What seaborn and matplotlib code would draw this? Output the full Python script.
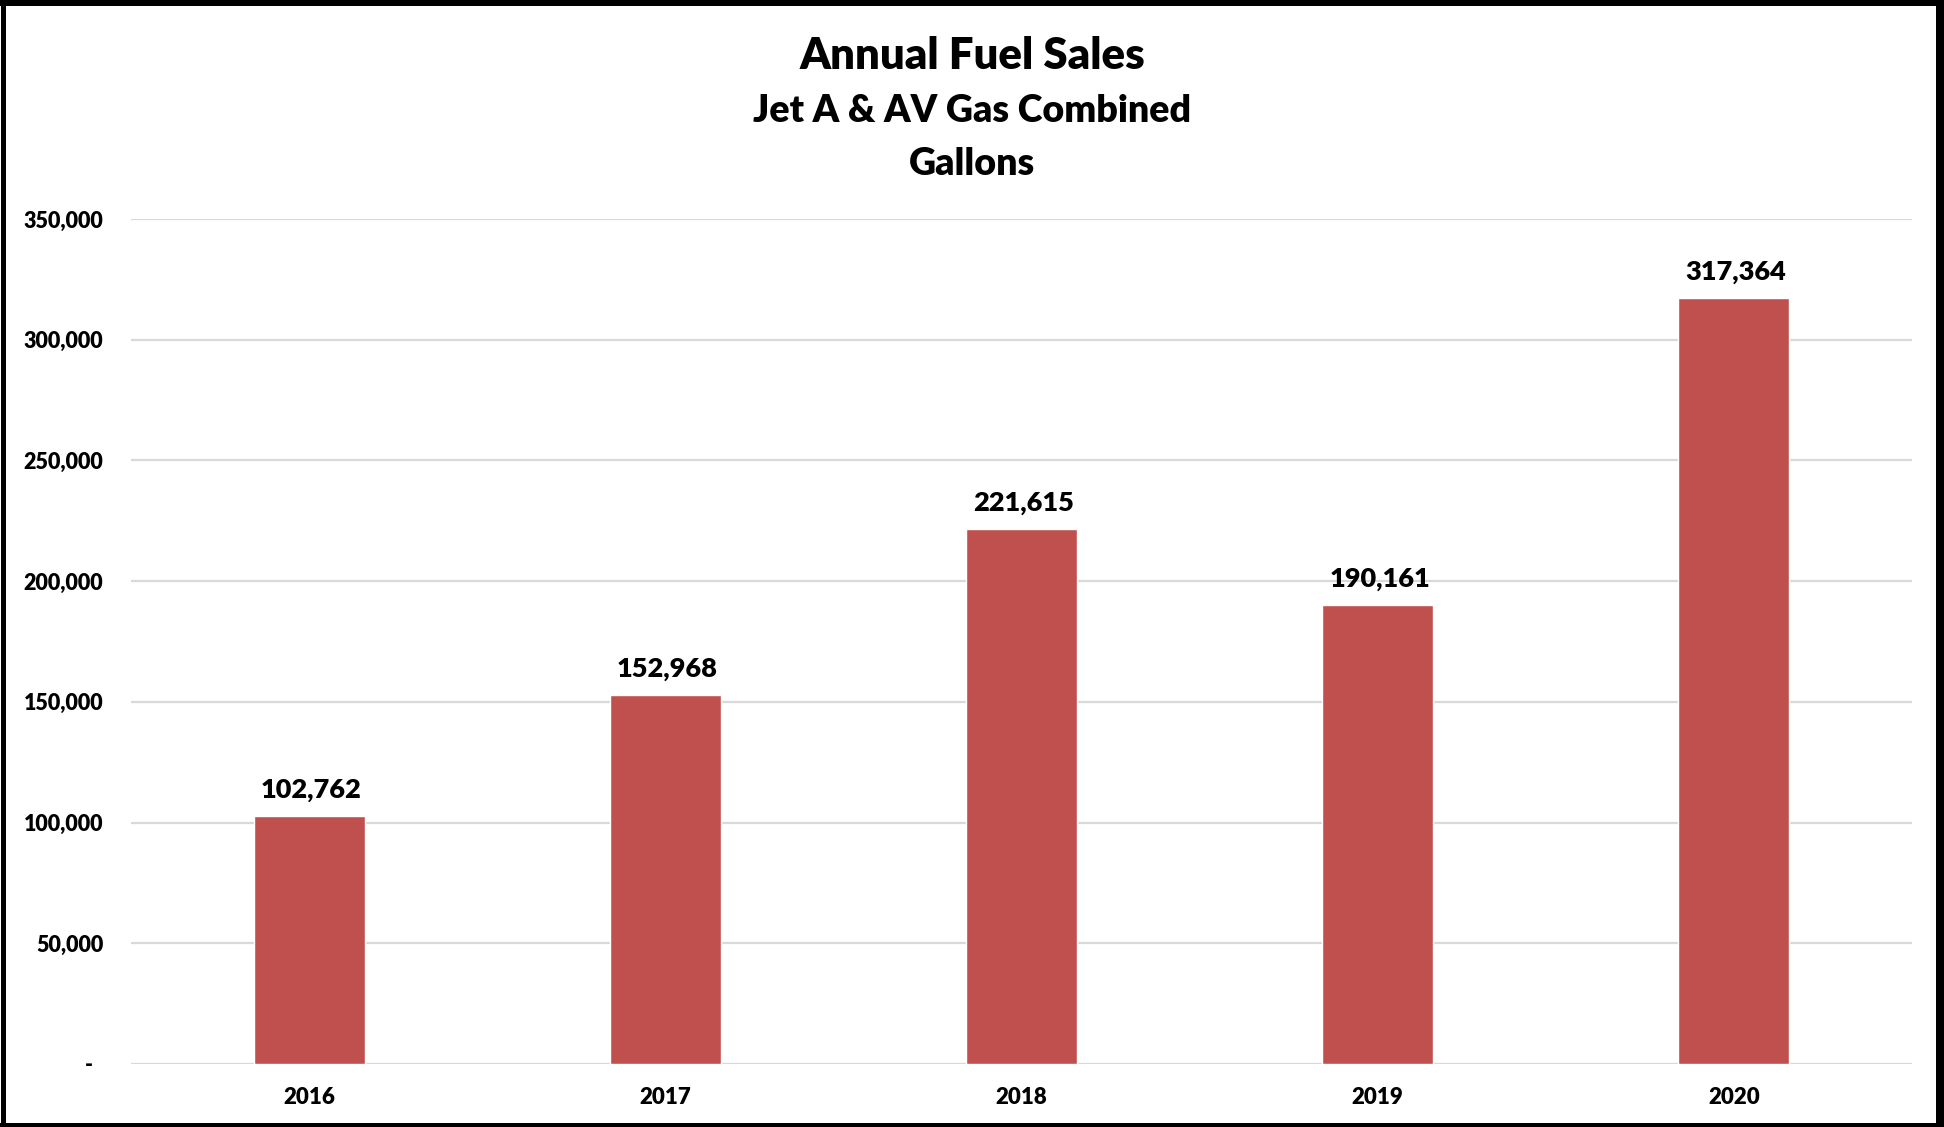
import matplotlib
matplotlib.use("Agg")
import matplotlib.pyplot as plt
from matplotlib.lines import Line2D
import seaborn as sns
import pandas as pd

# Annual gallons sold (Jet A and AV gas together)
years = ["2016", "2017", "2018", "2019", "2020"]
gallons = [102762, 152968, 221615, 190161, 317364]
y_ticks = [0, 50000, 100000, 150000, 200000, 250000, 300000, 350000]
title_lines = ["Annual Fuel Sales", "Jet A & AV Gas Combined", "Gallons"]

sns.set_style("white")
plt.rcParams["font.family"] = ["Lato", "DejaVu Sans"]
WEIGHT = 800

W, H = 1944, 1127
fig = plt.figure(figsize=(W / 100, H / 100), dpi=100)
fig.patch.set_facecolor("white")

left, right, bottom, top = 131, 1912, 1064, 219
ax = fig.add_axes([left / W, (H - bottom) / H, (right - left) / W, (bottom - top) / H])

df = pd.DataFrame({"year": years, "gallons": gallons})
sns.barplot(data=df, x="year", y="gallons", color="#C0504D", width=0.312,
            saturation=1, ax=ax, zorder=3)

ax.set_xlim(-0.5, len(years) - 0.5)
ax.set_ylim(0, y_ticks[-1])
ax.set_yticks(y_ticks)
ax.set_yticklabels(["-  "] + [f"{v:,}" for v in y_ticks[1:]])
ax.set_xlabel("")
ax.set_ylabel("")

ax.yaxis.grid(True, color="#d9d9d9", linewidth=1.6, zorder=0)
ax.set_axisbelow(True)
for s in ax.spines.values():
    s.set_visible(False)
ax.tick_params(axis="both", length=0)
ax.tick_params(axis="y", pad=20, labelsize=15.5)
ax.tick_params(axis="x", pad=16.5, labelsize=16)
for lab in ax.get_xticklabels() + ax.get_yticklabels():
    lab.set_fontweight(WEIGHT)
    lab.set_color("black")

# value labels above each bar
for i, v in enumerate(gallons):
    ax.annotate(f"{v:,}", xy=(i, v), xytext=(1.5, 13), textcoords="offset points",
                ha="center", va="baseline", fontsize=19.5, fontweight=WEIGHT,
                color="black")

# three-line heading
for text, base, size in zip(title_lines, [69, 122, 175], [31.5, 27, 27]):
    fig.text(972 / W, 1 - base / H, text, ha="center", va="baseline",
             fontsize=size, fontweight=WEIGHT, color="black")

# black frame around the whole chart
frame = [((2.5, 2.5), (0, H), 5), ((1939.5, 1939.5), (0, H), 9),
         ((0, W), (3, 3), 6), ((0, W), (1125, 1125), 4)]
for xs, ys, lw in frame:
    fig.add_artist(Line2D([x / W for x in xs], [1 - y / H for y in ys],
                          transform=fig.transFigure, color="black",
                          linewidth=lw * 72 / 100, solid_capstyle="butt"))

fig.savefig("out.png", dpi=100, facecolor="white")
